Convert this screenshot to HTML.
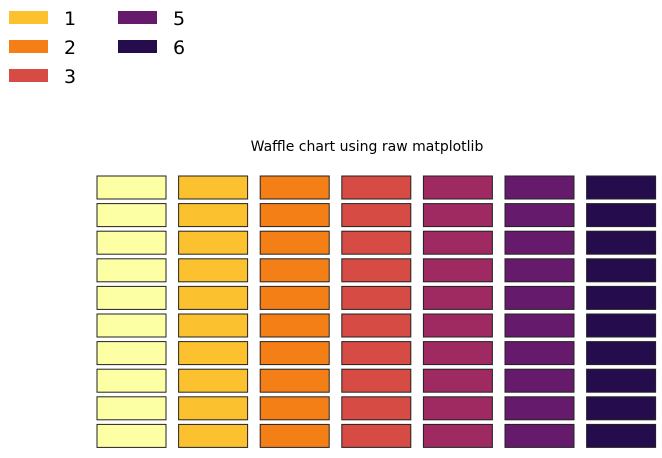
<!DOCTYPE html>
<html><head><meta charset="utf-8"><style>
body{margin:0;background:#fff;}
svg{display:block;font-family:"DejaVu Sans","Liberation Sans",sans-serif;}
</style></head><body>
<svg id="c" width="662" height="458">
<text x="367" y="151" font-size="14" text-anchor="middle">Waffle chart using raw matplotlib</text>
</svg>
<script>
const categories=['0','1','2','3','4','5','6'];
const counts=[10,10,10,10,10,10,10];
const colors=['#fcffa4','#fbc12e','#f57f17','#d64b43','#9f2a61','#661a6b','#250c4d'];
const legendLabels=['1','2','3','5','6'];
const legendIdx=[1,2,3,5,6];
const svg=document.getElementById('c');
const NS='http://www.w3.org/2000/svg';
const x0=97,dx=81.6,cw=69,y0=176,dy=27.6,ch=23;
function xCol(i){return x0+i*dx;}
function yRow(r){return y0+r*dy;}
categories.forEach((c,i)=>{
  for(let r=0;r<counts[i];r++){
    const el=document.createElementNS(NS,'rect');
    el.setAttribute('x',xCol(i));el.setAttribute('y',yRow(r));
    el.setAttribute('width',cw);el.setAttribute('height',ch);
    el.setAttribute('fill',colors[i]);el.setAttribute('stroke','#222');el.setAttribute('stroke-width','1');
    
    
    svg.appendChild(el);
  }
});
legendLabels.forEach((l,k)=>{
  const col=Math.floor(k/3),row=k%3;
  const g=document.createElementNS(NS,'g');
  
  
  const r=document.createElementNS(NS,'rect');
  r.setAttribute('x',9+col*109);r.setAttribute('y',11+row*29);
  r.setAttribute('width',39);r.setAttribute('height',13);
  r.setAttribute('fill',colors[legendIdx[k]]);
  
  
  const t=document.createElementNS(NS,'text');
  t.setAttribute('x',64+col*109);t.setAttribute('y',25+row*29);
  t.setAttribute('font-size','19');t.textContent=l;
  
  
  g.appendChild(r);g.appendChild(t);svg.appendChild(g);
});
</script>
</body></html>
